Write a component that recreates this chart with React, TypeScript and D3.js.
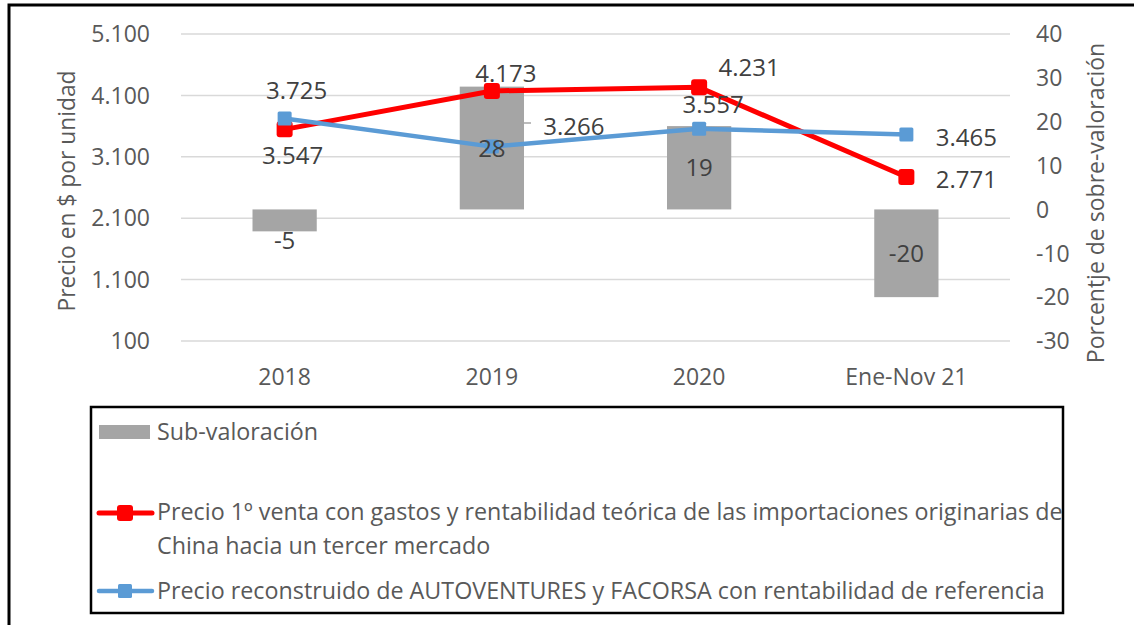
import React from 'react';
import * as d3 from 'd3';

const categories = ['2018', '2019', '2020', 'Ene-Nov 21'];
const subValoracion = [-5, 28, 19, -20];
const precioChina = [3547, 4173, 4231, 2771];
const precioReconstruido = [3725, 3266, 3557, 3465];
const leftTicks = [100, 1100, 2100, 3100, 4100, 5100];
const rightTicks = [-30, -20, -10, 0, 10, 20, 30, 40];

// label nudges (px) from each point, as they were dragged in the original
const chinaLabelOffsets = [[8, 26], [14, -18], [50, -20], [60, 2]];
const reconLabelOffsets = [[12, -28], [82, -20], [14, -24], [60, 3]];
const barLabelShift = [20, 0, 0, 0];

const FONT = '"Open Sans", "DejaVu Sans", sans-serif';
const AXIS = '#595959';
const LABEL = '#404040';

const fmt = d3.formatLocale({ decimal: ',', thousands: '.', grouping: [3], currency: ['$', ''] }).format(',d');

export default function App() {
  const width = 1134;
  const height = 625;
  const plot = { left: 181, right: 1010, top: 34, bottom: 341 };

  const x = d3.scaleBand<string>()
    .domain(categories)
    .range([plot.left, plot.right])
    .paddingInner(0.69)
    .paddingOuter(0.345);
  const cx = (c: string) => (x(c) as number) + x.bandwidth() / 2;

  const yL = d3.scaleLinear().domain([100, 5100]).range([plot.bottom, plot.top]);
  const yR = d3.scaleLinear().domain([-30, 40]).range([plot.bottom, plot.top]);

  const line = d3.line<number>()
    .x((_, i) => cx(categories[i]))
    .y(d => yL(d));

  const series = [
    { values: precioChina, color: '#ff0000', width: 5, marker: 16, rx: 3, offsets: chinaLabelOffsets },
    { values: precioReconstruido, color: '#5b9bd5', width: 4.5, marker: 14, rx: 1.5, offsets: reconLabelOffsets },
  ];

  return (
    <svg width={width} height={height} style={{ position: 'absolute', left: 0, top: 0, background: '#fff' }}
      fontFamily={FONT}>
      {/* outer frame */}
      <rect x={9} y={5} width={width + 20} height={height + 20} fill="none" stroke="#000" strokeWidth={3} />

      {/* gridlines */}
      {leftTicks.map(t => (
        <line key={t} x1={plot.left} x2={plot.right} y1={yL(t)} y2={yL(t)} stroke="#d9d9d9" strokeWidth={1.5} />
      ))}

      {/* left ticks */}
      {leftTicks.map(t => (
        <text key={t} x={150} y={yL(t)} dy="0.36em" textAnchor="end" fontSize={23} fill={AXIS}>{fmt(t)}</text>
      ))}
      {/* right ticks */}
      {rightTicks.map(t => (
        <text key={t} x={1036} y={yR(t)} dy="0.36em" textAnchor="start" fontSize={23} fill={AXIS}>{t}</text>
      ))}
      {/* categories */}
      {categories.map(c => (
        <text key={c} x={cx(c)} y={377} dy="0.36em" textAnchor="middle" fontSize={23} fill={AXIS}>{c}</text>
      ))}

      {/* axis titles */}
      <text transform="translate(75,191) rotate(-90)" textAnchor="middle" fontSize={22.8} fill={AXIS}>Precio en $ por unidad</text>
      <text transform="translate(1104,203) rotate(-90)" textAnchor="middle" fontSize={23} fill={AXIS}>Porcentje de sobre-valoración</text>

      {/* bars */}
      {subValoracion.map((v, i) => (
        <rect key={i} x={x(categories[i])} width={x.bandwidth()}
          y={Math.min(yR(0), yR(v))} height={Math.abs(yR(v) - yR(0))} fill="#a5a5a5" />
      ))}

      {/* small leader tick next to 2019 label */}
      <line x1={(x('2019') as number) + x.bandwidth()} x2={(x('2019') as number) + x.bandwidth() + 7}
        y1={123} y2={123} stroke="#a6a6a6" strokeWidth={1.5} />

      {/* lines + markers */}
      {series.map((s, k) => (
        <g key={k}>
          <path d={line(s.values) as string} fill="none" stroke={s.color} strokeWidth={s.width}
            strokeLinejoin="round" strokeLinecap="round" />
          {s.values.map((v, i) => (
            <rect key={i} x={cx(categories[i]) - s.marker / 2} y={yL(v) - s.marker / 2}
              width={s.marker} height={s.marker} rx={s.rx} fill={s.color} />
          ))}
        </g>
      ))}

      {/* bar labels */}
      {subValoracion.map((v, i) => (
        <text key={i} x={cx(categories[i])} y={(yR(0) + yR(v)) / 2 + barLabelShift[i]} dy="0.36em"
          textAnchor="middle" fontSize={24} fill={LABEL}>{v}</text>
      ))}

      {/* line labels */}
      {series.map((s, k) => s.values.map((v, i) => (
        <text key={`${k}-${i}`} x={cx(categories[i]) + s.offsets[i][0]} y={yL(v) + s.offsets[i][1]} dy="0.36em"
          textAnchor="middle" fontSize={24} fill={LABEL}>{fmt(v)}</text>
      )))}

      {/* legend */}
      <rect x={91} y={407} width={972} height={206} fill="#fff" stroke="#000" strokeWidth={2.5} />
      <rect x={99} y={425} width={51} height={14} fill="#a5a5a5" />
      <text x={157} y={432} dy="0.36em" fontSize={23.3} fill={AXIS}>Sub-valoración</text>

      <line x1={99} x2={152} y1={513} y2={513} stroke="#ff0000" strokeWidth={5} strokeLinecap="round" />
      <rect x={117} y={505} width={16} height={16} rx={3} fill="#ff0000" />
      <text x={157} y={512} dy="0.36em" fontSize={23.3} fill={AXIS}>Precio 1º venta con gastos y rentabilidad teórica de las importaciones originarias de</text>
      <text x={157} y={546} dy="0.36em" fontSize={23.3} fill={AXIS}>China hacia un tercer mercado</text>

      <line x1={99} x2={152} y1={591} y2={591} stroke="#5b9bd5" strokeWidth={4.5} strokeLinecap="round" />
      <rect x={118} y={584} width={14} height={14} rx={1.5} fill="#5b9bd5" />
      <text x={157} y={591} dy="0.36em" fontSize={23.3} fill={AXIS}>Precio reconstruido de AUTOVENTURES y FACORSA con rentabilidad de referencia</text>
    </svg>
  );
}
